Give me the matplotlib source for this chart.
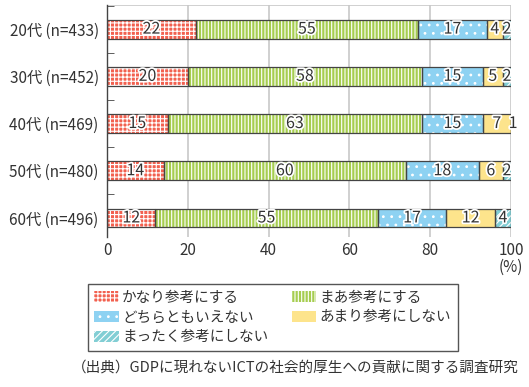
import numpy as np
import matplotlib
matplotlib.use("Agg")
import matplotlib.pyplot as plt
import matplotlib.patheffects as pe
from matplotlib.patches import Patch

plt.rcParams['font.family'] = ['Noto Sans CJK JP', 'DejaVu Sans']
plt.rcParams['hatch.linewidth'] = 0.8

# data
groups = ["20代 (n=433)", "30代 (n=452)", "40代 (n=469)", "50代 (n=480)", "60代 (n=496)"]
kanari = [22, 20, 15, 14, 12]
maa = [55, 58, 63, 60, 55]
dochira = [17, 15, 15, 18, 17]
amari = [4, 5, 7, 6, 12]
mattaku = [2, 2, 1, 2, 4]

series = [kanari, maa, dochira, amari, mattaku]
names = ["かなり参考にする", "まあ参考にする", "どちらともいえない", "あまり参考にしない", "まったく参考にしない"]
colors = ["#f2604f", "#a6cd50", "#8ed2f2", "#fde48c", "#82ced4"]
hatches = ["++++", "|||||", "..", "", "/////"]

ink = "#333333"

fig = plt.figure(figsize=(5.29, 3.87), dpi=100)
ax = fig.add_axes([0.2023, 0.388, 0.7637, 0.599])

y = np.arange(len(groups))
left = np.zeros(len(groups))
for vals, c, h in zip(series, colors, hatches):
    vals = np.array(vals, dtype=float)
    ax.barh(y, vals, left=left, height=0.4, color=c, hatch=h,
            edgecolor="white", linewidth=0, zorder=2)
    ax.barh(y, vals, left=left, height=0.4, fill=False,
            edgecolor="#444444", linewidth=0.9, zorder=3)
    for yi, l, v in zip(y, left, vals):
        ax.text(l + v / 2, yi, f"{int(v)}", ha="center", va="center",
                fontsize=11.5, color=ink, zorder=4,
                path_effects=[pe.withStroke(linewidth=2.5, foreground="white")])
    left += vals

ax.set_xlim(0, 100)
ax.set_ylim(4.4, -0.51)
ax.set_yticks(y)
ax.set_yticklabels(groups, fontsize=11, color=ink)
ax.set_yticks(np.arange(-0.5, 4, 1), minor=True)
ax.tick_params(axis="y", which="major", length=0, pad=6)
ax.tick_params(axis="y", which="minor", direction="in", length=5, color="#444444")
ax.set_xticks([0, 20, 40, 60, 80, 100])
ax.tick_params(axis="x", length=0, labelsize=11, labelcolor=ink, pad=4)
ax.xaxis.grid(True, color="#c8c8c8", linewidth=1.2, zorder=0)
ax.set_axisbelow(True)

for s in ["top", "right", "bottom"]:
    ax.spines[s].set_visible(False)
ax.spines["left"].set_color("#444444")
ax.spines["left"].set_linewidth(1.0)
ax.axhline(-0.51, color="#c8c8c8", linewidth=1.2, zorder=0)

fig.text(0.966, 0.309, "(%)", ha="center", va="center", fontsize=11, color=ink)

# legend
handles = []
for n, c, h in zip(names, colors, hatches):
    handles.append(Patch(facecolor=c, hatch=h, edgecolor="white", linewidth=0, label=n))
order = [0, 2, 4, 1, 3]
leg = fig.legend([handles[i] for i in order], [names[i] for i in order],
                 ncol=2, loc="upper left", bbox_to_anchor=(0.166, 0.266),
                 fontsize=10.5, frameon=True, fancybox=False, framealpha=1,
                 edgecolor="#555555", handlelength=1.7, handleheight=0.8,
                 handletextpad=0.2, columnspacing=1.6, labelspacing=0.4,
                 borderpad=0.45, borderaxespad=0)
for t in leg.get_texts():
    t.set_color(ink)
leg.get_frame().set_linewidth(1.0)

fig.text(0.981, 0.049, "（出典）GDPに現れないICTの社会的厚生への貢献に関する調査研究",
         ha="right", va="center", fontsize=10.5, color=ink)

fig.savefig("out.png", dpi=100)
